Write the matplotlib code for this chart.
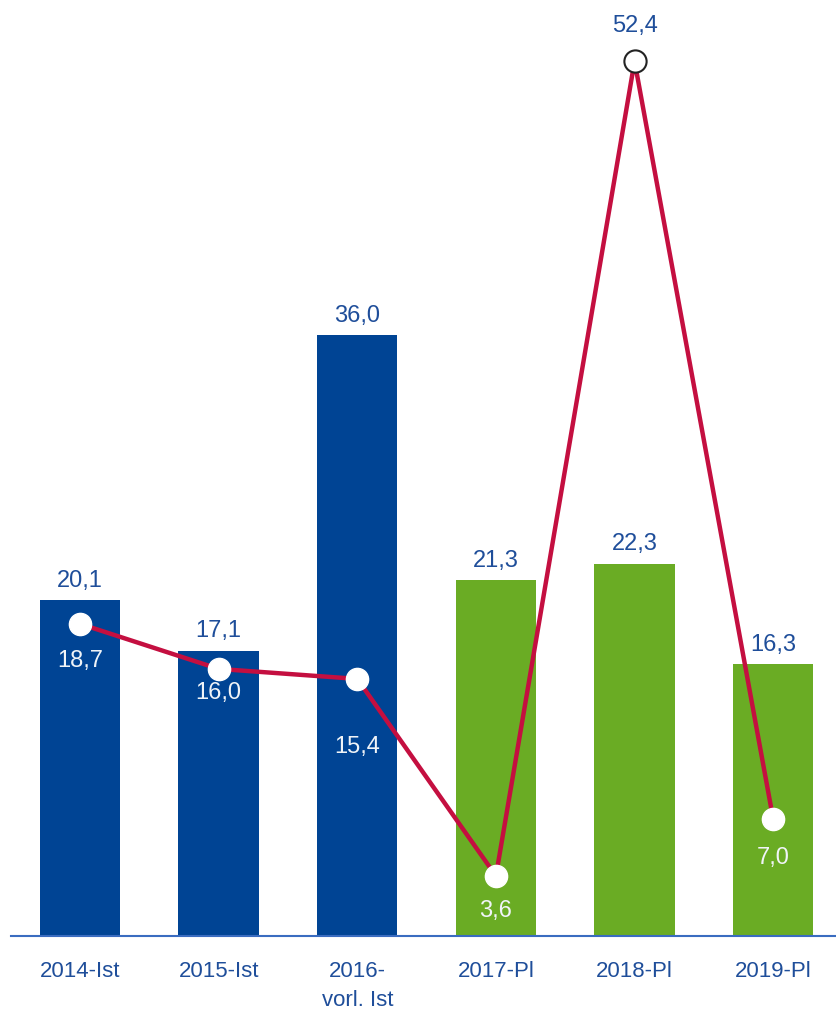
import numpy as np
import matplotlib.pyplot as plt

plt.rcParams['font.family'] = ['Liberation Sans', 'DejaVu Sans']

# data
categories = ['2014-Ist', '2015-Ist', '2016-\nvorl. Ist', '2017-Pl', '2018-Pl', '2019-Pl']
bar_values = [20.1, 17.1, 36.0, 21.3, 22.3, 16.3]
line_values = [18.7, 16.0, 15.4, 3.6, 52.4, 7.0]

blue = '#004494'
green = '#6aac24'
red = '#c40f40'
text_blue = '#1f4e9a'

bar_colors = [blue, blue, blue, green, green, green]
# label offsets (points) for line values
line_offsets = [-27, -17, -49, -25, 25, -28]

fig = plt.figure(figsize=(8.36, 10.14), dpi=100)
ax = fig.add_axes([0.0128, 0.0769, 0.995, 0.922])

x = np.arange(len(categories))
bars = ax.bar(x, bar_values, width=0.58, color=bar_colors, zorder=1)
for xi, v in zip(x, bar_values):
    ax.annotate(f'{v:.1f}'.replace('.', ','), (xi, v), xytext=(0, 6),
                textcoords='offset points', ha='center', va='bottom',
                fontsize=17, color=text_blue)

ax.plot(x, line_values, color=red, lw=3.2, zorder=2)
# markers sitting on white background get a dark rim
for xi, v in zip(x, line_values):
    on_bar = v < bar_values[xi]
    ax.plot(xi, v, 'o', ms=16, mfc='white',
            mec='white' if on_bar else '#222222',
            mew=1.0 if on_bar else 1.5, zorder=3)
for xi, v, off in zip(x, line_values, line_offsets):
    col = text_blue if off > 0 else '#f0f4f8'
    ax.annotate(f'{v:.1f}'.replace('.', ','), (xi, v), xytext=(0, off),
                textcoords='offset points', ha='center', va='center',
                fontsize=17, color=col)

ax.set_xlim(-0.5, 5.5)
ax.set_ylim(0, 56)
ax.set_xticks(x)
ax.set_xticklabels(categories, fontsize=16, color=text_blue, linespacing=1.5)
ax.tick_params(axis='x', length=0, pad=18)
ax.set_yticks([])
for s in ['top', 'right', 'left']:
    ax.spines[s].set_visible(False)
ax.spines['bottom'].set_color('#3a6cc0')
ax.spines['bottom'].set_linewidth(1.5)

fig.savefig('out.png', dpi=100)
